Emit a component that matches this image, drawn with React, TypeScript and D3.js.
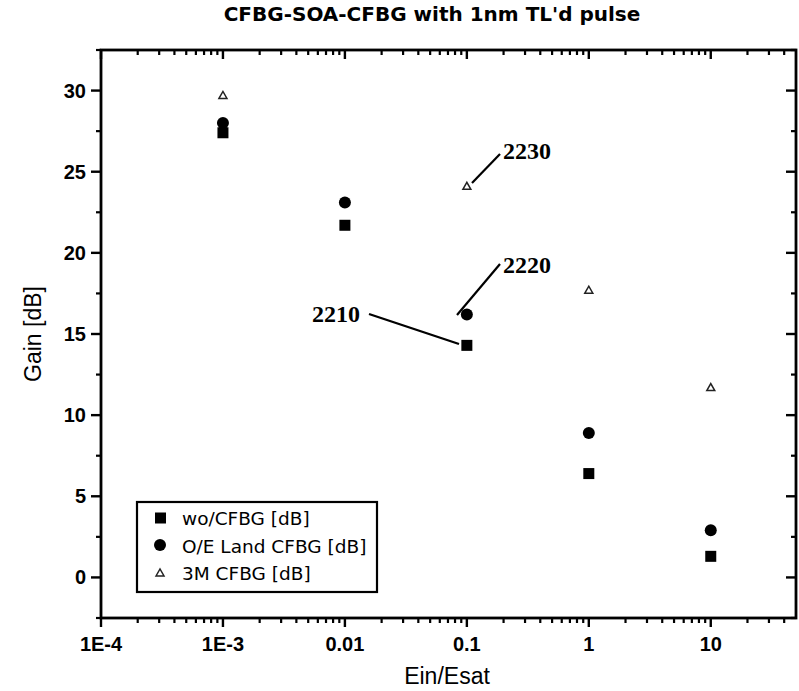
import React from "react";
import * as d3 from "d3";

const xValues = [0.001, 0.01, 0.1, 1, 10];
const woCFBG = [27.4, 21.7, 14.3, 6.4, 1.3];
const oeLandCFBG = [28.0, 23.1, 16.2, 8.9, 2.9];
const m3CFBG: (number | null)[] = [29.7, null, 24.1, 17.7, 11.7];
const xTickValues = [1e-4, 1e-3, 0.01, 0.1, 1, 10];
const xTickLabels = ["1E-4", "1E-3", "0.01", "0.1", "1", "10"];
const yTickValues = [0, 5, 10, 15, 20, 25, 30];
const legendLabels = ["wo/CFBG [dB]", "O/E Land CFBG [dB]", "3M CFBG [dB]"];
const annotations = [
  { label: "2230", tx: 503, ty: 159, lx1: 500, ly1: 154, lx2: 472, ly2: 183 },
  { label: "2220", tx: 503, ty: 273, lx1: 500, ly1: 264, lx2: 457, ly2: 315 },
  { label: "2210", tx: 312, ty: 322, lx1: 369, ly1: 314, lx2: 459, ly2: 344 },
];

const W = 799;
const H = 691;
const L = 101, R = 796, T = 50, B = 618;

export default function App() {
  const x = d3.scaleLog().domain([1e-4, 50]).range([L, R]);
  const y = d3.scaleLinear().domain([-2.5, 32.5]).range([B, T]);

  const minorX: number[] = [];
  for (let e = -4; e <= 1; e++) {
    for (let k = 2; k <= 9; k++) {
      const v = k * Math.pow(10, e);
      if (v < 50) minorX.push(v);
    }
  }
  const minorY = d3.range(-2.5, 32.6, 5);

  const sq = 11;
  const triPath = (cx: number, cy: number) =>
    `M${cx - 4},${cy + 3} L${cx},${cy - 4} L${cx + 4},${cy + 3} Z`;

  const axisFont = "'Liberation Sans', Arial, sans-serif";

  return (
    <svg width={W} height={H} style={{ position: "absolute", left: 0, top: 0, background: "#fff" }}>
      <rect x={0} y={0} width={W} height={H} fill="#fff" />
      <text x={432} y={21} textAnchor="middle" fontFamily="'DejaVu Sans', Verdana, sans-serif" fontWeight="bold" fontSize={20}>
        CFBG-SOA-CFBG with 1nm TL'd pulse
      </text>

      {/* frame */}
      <rect x={L} y={T} width={R - L} height={B - T} fill="none" stroke="#000" strokeWidth={2.8} />

      {/* x ticks */}
      {xTickValues.map((v, i) => (
        <g key={"xt" + i}>
          <line x1={x(v)} x2={x(v)} y1={B} y2={B + 9} stroke="#000" strokeWidth={2.4} />
          <line x1={x(v)} x2={x(v)} y1={T} y2={T + 9} stroke="#000" strokeWidth={2.4} />
          <text x={x(v)} y={B + 33} textAnchor="middle" fontFamily={axisFont} fontWeight="bold" fontSize={20}>
            {xTickLabels[i]}
          </text>
        </g>
      ))}
      {minorX.map((v, i) => (
        <g key={"xm" + i}>
          <line x1={x(v)} x2={x(v)} y1={B} y2={B + 5} stroke="#000" strokeWidth={2.2} />
          <line x1={x(v)} x2={x(v)} y1={T} y2={T + 5} stroke="#000" strokeWidth={2.2} />
        </g>
      ))}

      {/* y ticks */}
      {yTickValues.map((v, i) => (
        <g key={"yt" + i}>
          <line x1={L - 10} x2={L} y1={y(v)} y2={y(v)} stroke="#000" strokeWidth={2.4} />
          <line x1={R - 10} x2={R} y1={y(v)} y2={y(v)} stroke="#000" strokeWidth={2.4} />
          <text x={L - 15} y={y(v) + 7} textAnchor="end" fontFamily={axisFont} fontWeight="bold" fontSize={20}>
            {v}
          </text>
        </g>
      ))}
      {minorY.map((v, i) => (
        <g key={"ym" + i}>
          <line x1={L - 5} x2={L} y1={y(v)} y2={y(v)} stroke="#000" strokeWidth={2.2} />
          <line x1={R - 5} x2={R} y1={y(v)} y2={y(v)} stroke="#000" strokeWidth={2.2} />
        </g>
      ))}

      {/* axis titles */}
      <text x={447} y={684} textAnchor="middle" fontFamily={axisFont} fontSize={23}>
        Ein/Esat
      </text>
      <text transform={`translate(41,${(T + B) / 2}) rotate(-90)`} textAnchor="middle" fontFamily={axisFont} fontSize={23}>
        Gain [dB]
      </text>

      {/* data */}
      {xValues.map((v, i) => (
        <rect key={"s" + i} x={x(v) - sq / 2} y={y(woCFBG[i]) - sq / 2} width={sq} height={sq} fill="#000" />
      ))}
      {xValues.map((v, i) => (
        <circle key={"c" + i} cx={x(v)} cy={y(oeLandCFBG[i])} r={6} fill="#000" />
      ))}
      {xValues.map((v, i) =>
        m3CFBG[i] == null ? null : (
          <path key={"t" + i} d={triPath(x(v), y(m3CFBG[i] as number))} fill="none" stroke="#222" strokeWidth={1.5} />
        )
      )}

      {/* annotations */}
      {annotations.map((a, i) => (
        <g key={"a" + i}>
          <line x1={a.lx1} y1={a.ly1} x2={a.lx2} y2={a.ly2} stroke="#000" strokeWidth={2.2} />
          <text x={a.tx} y={a.ty} fontFamily="'Liberation Serif', 'Times New Roman', serif" fontWeight="bold" fontSize={24}>
            {a.label}
          </text>
        </g>
      ))}

      {/* legend */}
      <rect x={137} y={502} width={240} height={90} fill="#fff" stroke="#000" strokeWidth={2.2} />
      <rect x={155} y={518 - sq / 2} width={sq} height={sq} fill="#000" />
      <circle cx={160} cy={545} r={6} fill="#000" />
      <path d={triPath(160, 573)} fill="none" stroke="#222" strokeWidth={1.5} />
      {legendLabels.map((t, i) => (
        <text key={"l" + i} x={182} y={525 + i * 27.5} fontFamily="'DejaVu Sans', Verdana, sans-serif" fontSize={18.5}>
          {t}
        </text>
      ))}
    </svg>
  );
}
